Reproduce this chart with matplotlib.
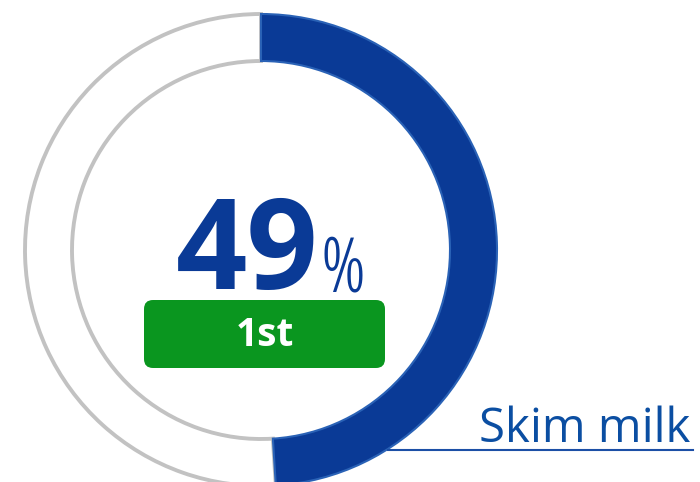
import matplotlib.pyplot as plt
from matplotlib.patches import FancyBboxPatch

share = [49, 51]
big_value = "49"
rank_label = "1st"
category = "Skim milk"

W, H = 700, 482
fig = plt.figure(figsize=(7, 4.82), dpi=100)
ax = fig.add_axes([0, 0, 1, 1])

cx, cy = 261, H - 250
wedges, _ = ax.pie(share, startangle=90, counterclock=False, radius=236,
                   center=(cx, cy), colors=['#0a3a96', 'white'],
                   wedgeprops=dict(width=47))
wedges[0].set_edgecolor('#2a62b6')
wedges[0].set_linewidth(1.5)
wedges[1].set_edgecolor('#c2c2c2')
wedges[1].set_linewidth(2.8)
wedges[0].set_zorder(3)

ax.set_xlim(0, W)
ax.set_ylim(0, H)
ax.set_aspect('equal')
ax.axis('off')

# big number
ax.text(319, H - 289, big_value, ha='right', va='baseline', fontsize=90,
        fontweight='bold', color='#0a3a96', family='Open Sans')
ax.text(320, H - 291, '%', ha='left', va='baseline', fontsize=55,
        color='#0a3a96', family='Open Sans', stretch='condensed')

# rank badge
box = FancyBboxPatch((144, H - 368), 241, 68, boxstyle='round,pad=0,rounding_size=9',
                     facecolor='#0a961f', edgecolor='none', zorder=4)
ax.add_patch(box)
ax.text(265, H - 335, rank_label, ha='center', va='center', fontsize=28,
        fontweight='bold', color='white', family='Open Sans', zorder=5)

# category label
ax.text(690, H - 442, category, ha='right', va='baseline', fontsize=34,
        color='#0b4ea2', family='Open Sans')
ax.plot([388, 693], [H - 450, H - 450], color='#1c4fa6', lw=1.5, zorder=6)

fig.savefig('out.png', dpi=100)
